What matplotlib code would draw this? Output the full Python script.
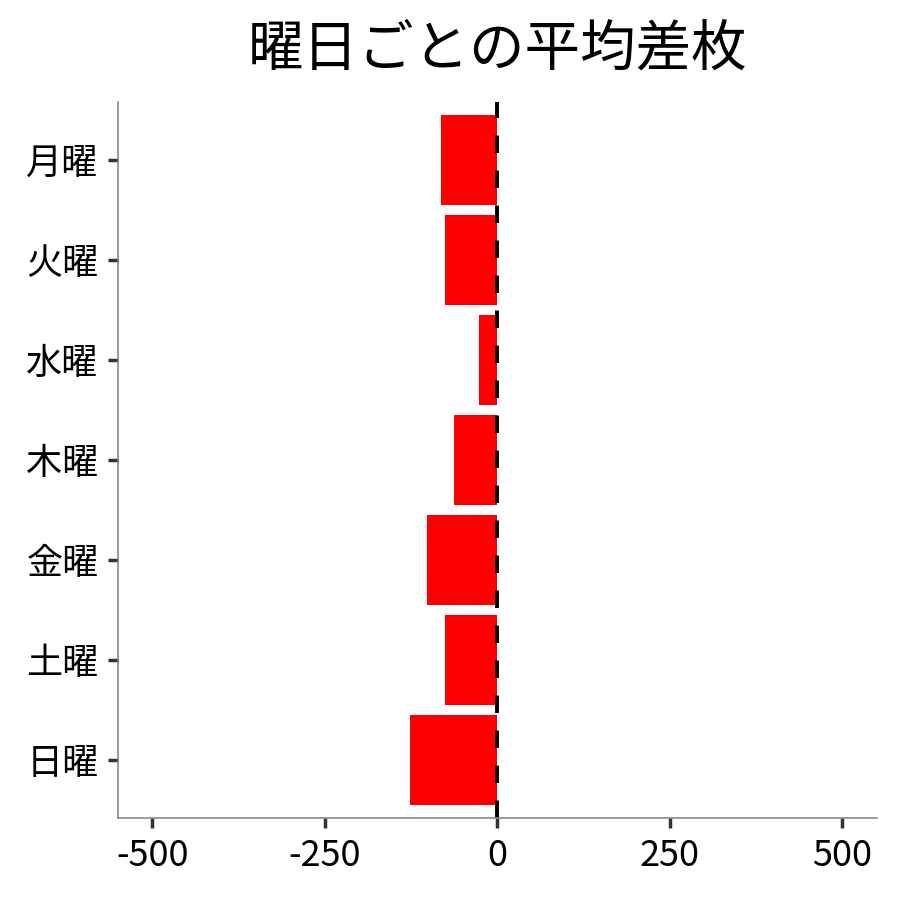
import numpy as np
import matplotlib.pyplot as plt

plt.rcParams['font.family'] = ['Noto Sans CJK JP', 'DejaVu Sans']

days = ['月曜', '火曜', '水曜', '木曜', '金曜', '土曜', '日曜']
avg_diff = [-82, -76, -26, -62, -102, -76, -126]

fig = plt.figure(figsize=(9, 9), dpi=100)
ax = fig.add_axes([0.131, 0.091, 0.843, 0.796])

y = np.arange(len(days))
ax.barh(y, avg_diff, height=0.9, color='red')
ax.axvline(0, color='black', lw=2.8, linestyle=(0, (4.5, 4.5)))

ax.set_yticks(y)
ax.set_yticklabels(days)
ax.set_ylim(len(days) - 0.42, -0.58)
ax.set_xlim(-550, 550)
ax.set_xticks([-500, -250, 0, 250, 500])
ax.set_xticklabels(['-500', '-250', '0', '250', '500'])

for s in ['top', 'right']:
    ax.spines[s].set_visible(False)
for s in ['left', 'bottom']:
    ax.spines[s].set_color('#808080')
    ax.spines[s].set_linewidth(1.1)
ax.tick_params(axis='both', length=7, width=2.5, color='#333333', labelsize=26, pad=7)

ax.set_title('曜日ごとの平均差枚', fontsize=40, pad=26)

plt.savefig('out.png', dpi=100)
